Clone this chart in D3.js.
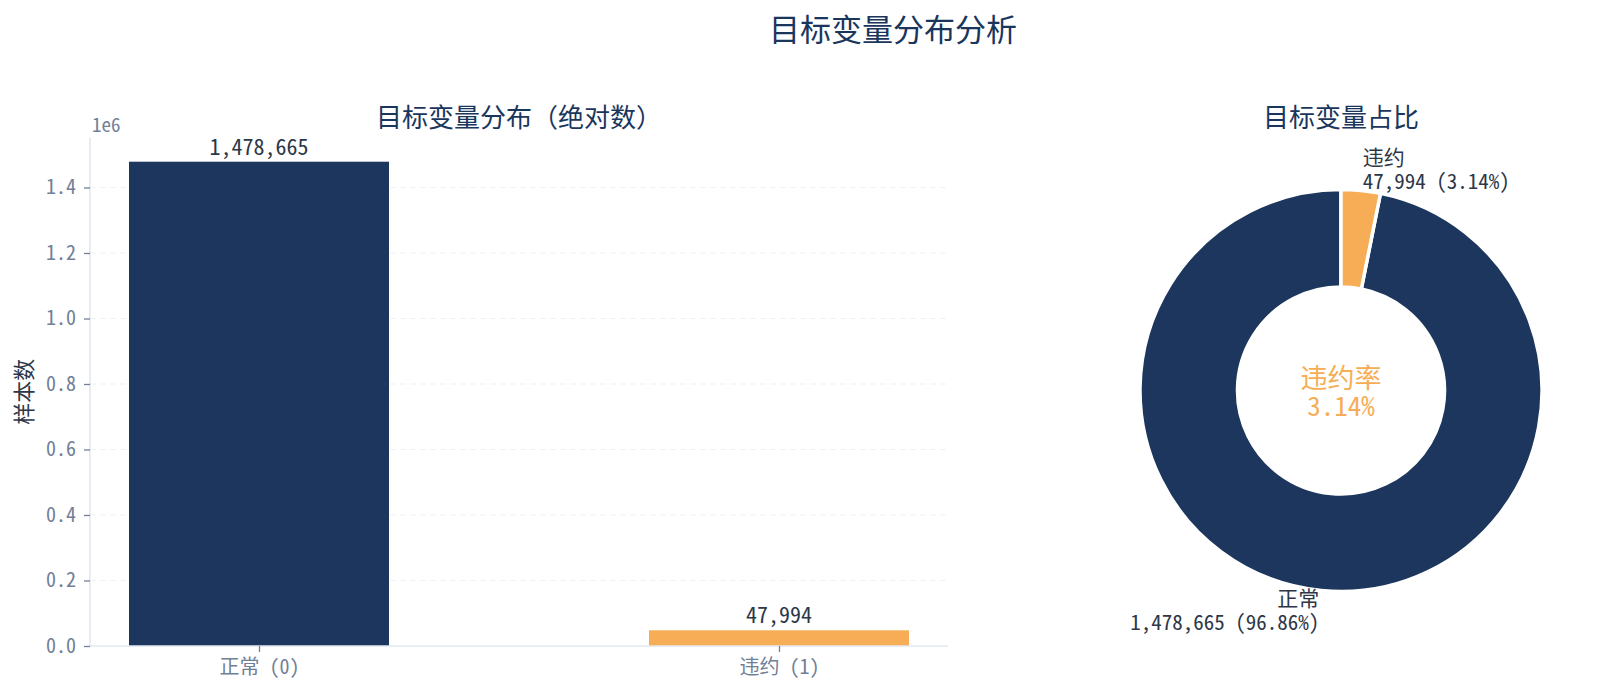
<!DOCTYPE html>
<html>
<head>
<meta charset="utf-8">
<script src="https://cdn.jsdelivr.net/npm/d3@7"></script>
<style>
  body { margin: 0; background: #fff; }
  svg text { font-family: "Noto Sans Mono CJK SC", "Noto Sans CJK SC", "DejaVu Sans Mono", monospace; }
</style>
</head>
<body>
<div id="chart"></div>
<script>
const categories = ['正常 (0)', '违约 (1)']
const pieNames = ['正常', '违约']
const counts = [1478665, 47994]
const yTicks = [0, 0.2, 0.4, 0.6, 0.8, 1.0, 1.2, 1.4]

const NAVY = '#1d365d'
const ORANGE = '#f6ad55'
const TEXT = '#2d3748'
const GRAY = '#718096'
const TITLE = '#1a365d'

const W = 1610, H = 695
const svg = d3.select('#chart').append('svg')
    .attr('width', W).attr('height', H)

svg.append('text')
    .attr('x', 893).attr('y', 41)
    .attr('text-anchor', 'middle')
    .attr('font-size', 31)
    .attr('fill', TITLE)
    .text('目标变量分布分析')

// ---- bar chart ----
const BAR = { LEFT: 90, RIGHT: 948, BOTTOM: 646 }
const total = d3.sum(counts)

const x = d3.scaleLinear()
    .domain([-0.325, 1.325])
    .range([BAR.LEFT, BAR.RIGHT])
const y = d3.scaleLinear()
    .domain([0, d3.max(counts) * 1.05])
    .range([BAR.BOTTOM, 137.5])

const g = svg.append('g')

g.append('text')
    .attr('x', (BAR.LEFT + BAR.RIGHT) / 2).attr('y', 127)
    .attr('text-anchor', 'middle')
    .attr('font-size', 26)
    .attr('fill', TITLE)
    .text('目标变量分布（绝对数）')

// grid
g.selectAll('line.grid')
    .data(yTicks.slice(1))
    .enter().append('line')
    .attr('class', 'grid')
    .attr('x1', BAR.LEFT).attr('x2', BAR.RIGHT)
    .attr('y1', d => y(d * 1e6)).attr('y2', d => y(d * 1e6))
    .attr('stroke', '#edf2f7')
    .attr('stroke-dasharray', '6,4')
    .attr('stroke-width', 1.2)

// bars
g.selectAll('rect.bar')
    .data(counts)
    .enter().append('rect')
    .attr('class', 'bar')
    .attr('x', (d, i) => x(i - 0.25))
    .attr('width', x(0.25) - x(-0.25))
    .attr('y', d => y(d))
    .attr('height', d => BAR.BOTTOM - y(d))
    .attr('fill', (d, i) => i === 0 ? NAVY : ORANGE)

g.selectAll('text.val')
    .data(counts)
    .enter().append('text')
    .attr('class', 'val')
    .attr('x', (d, i) => x(i))
    .attr('y', d => y(d) - 7)
    .attr('text-anchor', 'middle')
    .attr('font-size', 22)
    .attr('fill', TEXT)
    .text(d => d3.format(',')(d))

// axes
const yAxis = g.append('g')
    .attr('transform', `translate(${BAR.LEFT},0)`)
    .call(d3.axisLeft(y)
        .tickValues(yTicks.map(t => t * 1e6))
        .tickFormat(d => d3.format('.1f')(d / 1e6))
        .tickSize(6).tickPadding(8))
const xAxis = g.append('g')
    .attr('transform', `translate(0,${BAR.BOTTOM})`)
    .call(d3.axisBottom(x)
        .tickValues([0, 1])
        .tickFormat((d, i) => categories[i])
        .tickSize(6).tickPadding(8))

;[yAxis, xAxis].forEach(ax => {
    ax.select('.domain').attr('stroke', '#e2e8f0').attr('stroke-width', 1.6)
    ax.selectAll('.tick line').attr('stroke', GRAY).attr('stroke-width', 1.3)
    ax.selectAll('.tick text')
        .attr('fill', GRAY)
        .attr('font-size', 20)
        .style('font-family', '"Noto Sans Mono CJK SC", "Noto Sans CJK SC", monospace')
})
yAxis.select('.domain').attr('d', `M0,${BAR.BOTTOM}V137.5`)
xAxis.select('.domain').attr('d', `M${BAR.LEFT},0H${BAR.RIGHT}`)

g.append('text')
    .attr('x', BAR.LEFT + 2).attr('y', 132)
    .attr('font-size', 19)
    .attr('fill', GRAY)
    .text('1e6')

g.append('text')
    .attr('transform', `translate(32,${(137.5 + BAR.BOTTOM) / 2}) rotate(-90)`)
    .attr('text-anchor', 'middle')
    .attr('font-size', 22)
    .attr('fill', TEXT)
    .text('样本数')

// ---- donut ----
const CX = 1341, CY = 390.5, R = 201
const p = svg.append('g').attr('transform', `translate(${CX},${CY})`)

svg.append('text')
    .attr('x', CX).attr('y', 127)
    .attr('text-anchor', 'middle')
    .attr('font-size', 26)
    .attr('fill', TITLE)
    .text('目标变量占比')

const share = counts[1] / total
const pie = d3.pie().sort(null)
    .startAngle(share * 2 * Math.PI)
    .endAngle(share * 2 * Math.PI + 2 * Math.PI)
const arcs = pie(counts)
const arc = d3.arc().innerRadius(R * 0.515).outerRadius(R)

p.selectAll('path')
    .data(arcs)
    .enter().append('path')
    .attr('d', arc)
    .attr('fill', (d, i) => i === 0 ? NAVY : ORANGE)
    .attr('stroke', '#fff')
    .attr('stroke-width', 3.5)

// slice labels, two lines each, outside the ring
arcs.forEach((a, i) => {
    const mid = (a.startAngle + a.endAngle) / 2
    const lx = Math.sin(mid) * R * 1.1
    const ly = -Math.cos(mid) * R * 1.1
    const pct = d3.format('.2%')(counts[i] / total)
    const lines = [pieNames[i], `${d3.format(',')(counts[i])} (${pct})`]
    lines.forEach((s, k) => {
        p.append('text')
            .attr('text-anchor', lx < 0 ? 'end' : 'start')
            .attr('font-size', 21)
            .attr('fill', TEXT)
            .attr('x', lx)
            .attr('y', ly - 5 + k * 24)
            .text(s)
    })
})

p.append('text')
    .attr('text-anchor', 'middle')
    .attr('font-size', 27)
    .attr('fill', ORANGE)
    .attr('x', 0).attr('y', -3)
    .text('违约率')
p.append('text')
    .attr('text-anchor', 'middle')
    .attr('font-size', 27)
    .attr('fill', ORANGE)
    .attr('x', 0).attr('y', 25)
    .text(d3.format('.2%')(share))
</script>
</body>
</html>
